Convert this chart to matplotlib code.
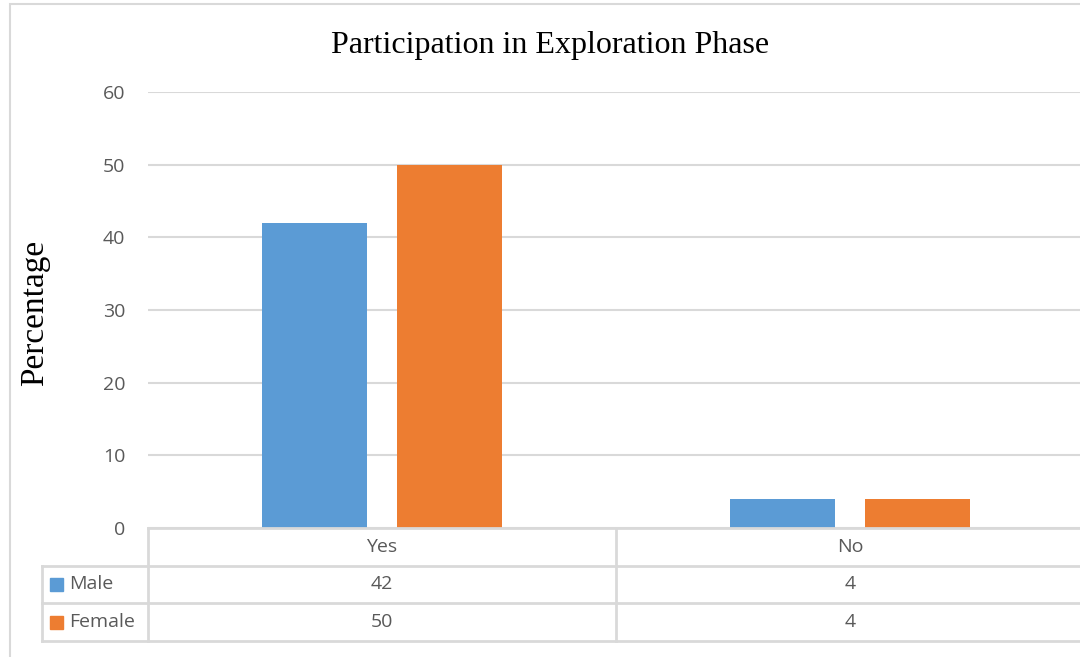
import matplotlib.pyplot as plt
import matplotlib.transforms as mtransforms
from matplotlib.patches import Rectangle
import numpy as np

categories = ["Yes", "No"]
series_names = ["Male", "Female"]
male = [42, 4]
female = [50, 4]
colors = ["#5B9BD5", "#ED7D31"]

W, H = 1080, 657
grid_c = "#D9D9D9"
text_c = "#595959"

fig = plt.figure(figsize=(W / 100, H / 100), dpi=100)

# outer chart frame
fig.patches.append(Rectangle((10 / W, -0.1), 1.2, 1 - 4 / H + 0.1,
                             transform=fig.transFigure, fill=False,
                             edgecolor=grid_c, linewidth=1.5))

ax = fig.add_axes([148 / W, 1 - 528 / H, (1084 - 148) / W, (528 - 92) / H])
x = np.arange(len(categories))
bw = 0.224
off = 0.144
ax.bar(x - off, male, bw, color=colors[0])
ax.bar(x + off, female, bw, color=colors[1])

ax.set_xlim(-0.5, 1.5)
ax.set_ylim(0, 60)
ax.set_yticks(range(0, 61, 10))
ax.yaxis.grid(True, color=grid_c, linewidth=1.5)
ax.set_axisbelow(True)
ax.set_xticks([])
for s in ax.spines.values():
    s.set_visible(False)
ax.tick_params(axis="y", length=0, pad=16.5, labelsize=14, labelcolor=text_c)
for lab in ax.get_yticklabels():
    lab.set_fontfamily("Open Sans")

fig.text(550 / W, 1 - 46 / H, "Participation in Exploration Phase",
         ha="center", va="center", fontsize=23, family="Liberation Serif")
fig.text(35 / W, 1 - 313 / H, "Percentage", rotation=90,
         ha="center", va="center", fontsize=24, family="Liberation Serif")

# data table under the plot
tr = mtransforms.blended_transform_factory(ax.transData, fig.transFigure)
ftr = fig.transFigure
rows_y = [528, 565.5, 603, 641]
fy = lambda p: 1 - p / H
left_px = 42 / W
x_left = -0.5
x_mid = 0.5
x_right = 1.5
lk = dict(color=grid_c, linewidth=2, clip_on=False)

# horizontal lines
fig.add_artist(plt.Line2D([x_left, x_right], [fy(rows_y[0])] * 2, transform=tr, **lk))
for yy in rows_y[1:]:
    fig.add_artist(plt.Line2D([left_px, 1.05], [fy(yy)] * 2, transform=ftr, **lk))
# vertical lines
fig.add_artist(plt.Line2D([left_px] * 2, [fy(rows_y[1]), fy(rows_y[3])], transform=ftr, **lk))
for xx in [x_left, x_mid]:
    fig.add_artist(plt.Line2D([xx] * 2, [fy(rows_y[0]), fy(rows_y[3])], transform=tr, **lk))

tk = dict(fontsize=14, color=text_c, family="Open Sans", ha="center", va="center")
for i, c in enumerate(categories):
    fig.text(x[i], fy((rows_y[0] + rows_y[1]) / 2), c, transform=tr, **tk)
for r, (name, vals) in enumerate(zip(series_names, [male, female])):
    yc = fy((rows_y[r + 1] + rows_y[r + 2]) / 2)
    fig.patches.append(Rectangle((50 / W, yc - 6.5 / H), 13 / W, 13 / H,
                                 transform=ftr, color=colors[r]))
    fig.text(69 / W, yc, name, transform=ftr, ha="left", va="center",
             fontsize=14, color=text_c, family="Open Sans")
    for i, v in enumerate(vals):
        fig.text(x[i], yc, str(v), transform=tr, **tk)

fig.savefig("out.png", dpi=100)
